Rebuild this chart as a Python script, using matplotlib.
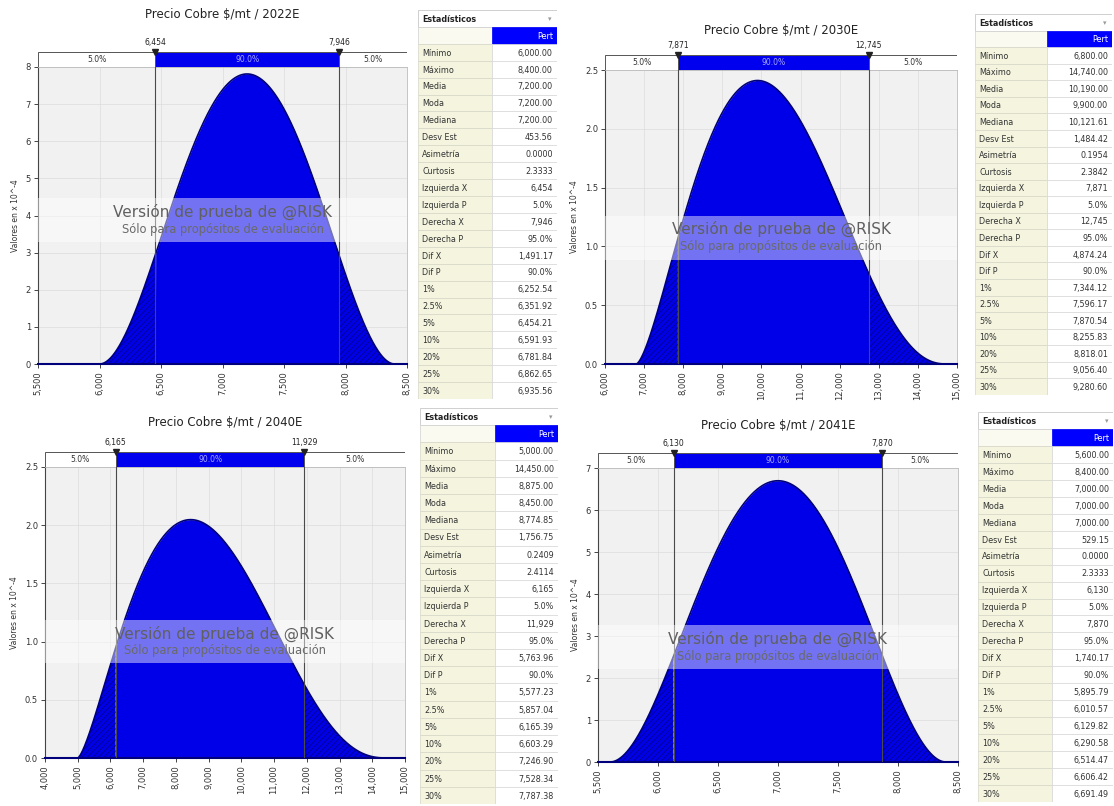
import math
import numpy as np
import matplotlib
matplotlib.use('Agg')
import matplotlib.pyplot as plt
from matplotlib.patches import Rectangle

plt.rcParams['font.family'] = ['DejaVu Sans']
plt.rcParams['hatch.linewidth'] = 0.6

# --- data read from the @RISK screenshots ---
titles = ["Precio Cobre \\$/mt / 2022E", "Precio Cobre \\$/mt / 2030E",
          "Precio Cobre \\$/mt / 2040E", "Precio Cobre \\$/mt / 2041E"]
pert_min = [6000, 6800, 5000, 5600]
pert_mode = [7200, 9900, 8450, 7000]
pert_max = [8400, 14740, 14450, 8400]
left_x = [6454, 7871, 6165, 6130]
right_x = [7946, 12745, 11929, 7870]
tail_labels = ["5.0%", "90.0%", "5.0%"]

x_ticks = [
    [5500, 6000, 6500, 7000, 7500, 8000, 8500],
    [6000, 7000, 8000, 9000, 10000, 11000, 12000, 13000, 14000, 15000],
    [4000, 5000, 6000, 7000, 8000, 9000, 10000, 11000, 12000, 13000, 14000, 15000],
    [5500, 6000, 6500, 7000, 7500, 8000, 8500],
]
y_ticks = [
    [0, 1, 2, 3, 4, 5, 6, 7, 8],
    [0.0, 0.5, 1.0, 1.5, 2.0, 2.5],
    [0.0, 0.5, 1.0, 1.5, 2.0, 2.5],
    [0, 1, 2, 3, 4, 5, 6, 7],
]
y_fmt = ["{:.0f}", "{:.1f}", "{:.1f}", "{:.0f}"]

stat_labels = ["Mínimo", "Máximo", "Media", "Moda", "Mediana", "Desv Est",
               "Asimetría", "Curtosis", "Izquierda X", "Izquierda P",
               "Derecha X", "Derecha P", "Dif X", "Dif P", "1%", "2.5%",
               "5%", "10%", "20%", "25%", "30%"]
stats_2022 = ["6,000.00", "8,400.00", "7,200.00", "7,200.00", "7,200.00", "453.56",
              "0.0000", "2.3333", "6,454", "5.0%", "7,946", "95.0%", "1,491.17",
              "90.0%", "6,252.54", "6,351.92", "6,454.21", "6,591.93", "6,781.84",
              "6,862.65", "6,935.56"]
stats_2030 = ["6,800.00", "14,740.00", "10,190.00", "9,900.00", "10,121.61", "1,484.42",
              "0.1954", "2.3842", "7,871", "5.0%", "12,745", "95.0%", "4,874.24",
              "90.0%", "7,344.12", "7,596.17", "7,870.54", "8,255.83", "8,818.01",
              "9,056.40", "9,280.60"]
stats_2040 = ["5,000.00", "14,450.00", "8,875.00", "8,450.00", "8,774.85", "1,756.75",
              "0.2409", "2.4114", "6,165", "5.0%", "11,929", "95.0%", "5,763.96",
              "90.0%", "5,577.23", "5,857.04", "6,165.39", "6,603.29", "7,246.90",
              "7,528.34", "7,787.38"]
stats_2041 = ["5,600.00", "8,400.00", "7,000.00", "7,000.00", "7,000.00", "529.15",
              "0.0000", "2.3333", "6,130", "5.0%", "7,870", "95.0%", "1,740.17",
              "90.0%", "5,895.79", "6,010.57", "6,129.82", "6,290.58", "6,514.47",
              "6,606.42", "6,691.49"]
all_stats = [stats_2022, stats_2030, stats_2040, stats_2041]

# --- layout in pixels (left, top, right, bottom) ---
W, H = 1114, 806
plot_px = [(38, 67, 407, 364), (605, 70, 957, 364), (45, 467, 405, 758), (598, 468, 958, 762)]
title_y = [14, 30, 423, 425]
band_y = [0.485, 0.43, 0.40, 0.39]
table_px = [(418, 10, 492, 557, 399), (975, 14, 1047, 1112, 395),
            (420, 408, 495, 558, 804), (978, 412, 1052, 1113, 802)]

BLUE = '#0000E8'
NAVY = '#00007A'


def rect(l, t, r, b):
    return [l / W, 1 - b / H, (r - l) / W, (b - t) / H]


def pert_pdf(x, a, m, b):
    al = 1 + 4 * (m - a) / (b - a)
    be = 1 + 4 * (b - m) / (b - a)
    beta_fn = math.gamma(al) * math.gamma(be) / math.gamma(al + be)
    return (x - a) ** (al - 1) * (b - x) ** (be - 1) / (beta_fn * (b - a) ** (al + be - 1))


def draw_chart(fig, i):
    l, t, r, b = plot_px[i]
    ax = fig.add_axes(rect(l, t, r, b))
    xt = x_ticks[i]
    yt = y_ticks[i]
    ax.set_facecolor('#F1F1F1')
    ax.set_xlim(xt[0], xt[-1])
    ax.set_ylim(yt[0], yt[-1])
    ax.grid(True, color='#DCDCDC', lw=0.5)
    ax.set_axisbelow(True)

    x = np.linspace(pert_min[i], pert_max[i], 800)
    y = pert_pdf(x, pert_min[i], pert_mode[i], pert_max[i]) * 1e4
    ax.fill_between(x, 0, y, where=(x >= left_x[i]) & (x <= right_x[i]),
                    color=BLUE, lw=0, zorder=2, interpolate=True)
    for mask in [x <= left_x[i], x >= right_x[i]]:
        ax.fill_between(x, 0, y, where=mask, facecolor=BLUE, edgecolor='#000090',
                        hatch='//////', lw=0, zorder=2, interpolate=True)
    ax.plot(x, y, color=NAVY, lw=1.2, zorder=3)
    for v in [left_x[i], right_x[i]]:
        ax.axvline(v, color='#4A4A4A', lw=0.8, zorder=4)

    ax.set_xticks(xt)
    ax.set_xticklabels([f"{v:,}" for v in xt], rotation=90, fontsize=6, color='#333333')
    ax.set_yticks(yt)
    ax.set_yticklabels([y_fmt[i].format(v) for v in yt], fontsize=6, color='#333333')
    ax.tick_params(length=3, width=0.7, color='#444444', pad=2)
    ax.set_ylabel("Valores en x 10^-4", fontsize=5.5, color='#333333', labelpad=4)
    for s in ['top', 'right']:
        ax.spines[s].set_color('#BBBBBB')
        ax.spines[s].set_linewidth(0.6)
    ax.spines['left'].set_color('#444444')
    ax.spines['bottom'].set_color(NAVY)
    ax.spines['bottom'].set_linewidth(1.5)

    # watermark band
    ax.add_patch(Rectangle((0, band_y[i] - 0.075), 1, 0.15, transform=ax.transAxes,
                           facecolor='white', alpha=0.45, lw=0, zorder=5))
    ax.text(0.5, band_y[i] + 0.028, "Versión de prueba de @RISK", transform=ax.transAxes,
            ha='center', va='center', fontsize=11, color='#606060', zorder=6)
    ax.text(0.5, band_y[i] - 0.032, "Sólo para propósitos de evaluación",
            transform=ax.transAxes, ha='center', va='center', fontsize=8.3,
            color='#6A6A6A', zorder=6)

    # delimiter bar
    bx = fig.add_axes(rect(l, t - 15, r, t))
    bx.set_xlim(xt[0], xt[-1])
    bx.set_ylim(0, 1)
    bx.axis('off')
    cells = [(xt[0], left_x[i], 'white'), (left_x[i], right_x[i], '#0000EE'),
             (right_x[i], xt[-1], 'white')]
    for (x0, x1, c), lab in zip(cells, tail_labels):
        bx.add_patch(Rectangle((x0, 0), x1 - x0, 1, facecolor=c, edgecolor='#555555', lw=0.7))
        bx.text((x0 + x1) / 2, 0.5, lab, ha='center', va='center', fontsize=5.5,
                color='#A8A8FF' if c != 'white' else '#333333')
    for v in [left_x[i], right_x[i]]:
        bx.plot([v], [1], marker='v', ms=4.5, color='#222222', clip_on=False)
        bx.text(v, 1.35, f"{v:,}", ha='center', va='bottom', fontsize=5.5, color='#222222')

    fig.text((l + r) / 2 / W, 1 - title_y[i] / H, titles[i], ha='center', va='center',
             fontsize=8.5, color='#222222')


def draw_table(fig, i):
    l, t, d, r, b = table_px[i]
    tx = fig.add_axes(rect(l, t, r, b))
    n = len(stat_labels) + 2
    tx.set_xlim(0, 1)
    tx.set_ylim(n, 0)
    tx.axis('off')
    split = (d - l) / (r - l)
    tx.add_patch(Rectangle((0, 0), 1, 1, facecolor='white', edgecolor='#C8C8C8', lw=0.6))
    tx.text(0.03, 0.55, "Estadísticos", ha='left', va='center', fontsize=5.8,
            fontweight='bold', color='#222222')
    tx.text(0.95, 0.55, "▾", ha='center', va='center', fontsize=5, color='#999999')
    tx.add_patch(Rectangle((0, 1), split, 1, facecolor='#FAFAF0', edgecolor='#D0D0D0', lw=0.5))
    tx.add_patch(Rectangle((split, 1), 1 - split, 1, facecolor='#0000FF', edgecolor='#0000FF', lw=0.5))
    tx.text(0.97, 1.55, "Pert", ha='right', va='center', fontsize=5.8, color='white')
    for k, (lab, val) in enumerate(zip(stat_labels, all_stats[i])):
        row = k + 2
        tx.add_patch(Rectangle((0, row), split, 1, facecolor='#F4F4DF', edgecolor='#D6D6C8', lw=0.5))
        tx.add_patch(Rectangle((split, row), 1 - split, 1, facecolor='white', edgecolor='#D8D8D8', lw=0.5))
        tx.text(0.03, row + 0.55, lab, ha='left', va='center', fontsize=5.8, color='#333333')
        tx.text(0.97, row + 0.55, val, ha='right', va='center', fontsize=5.8, color='#333333')


fig = plt.figure(figsize=(W / 100, H / 100), dpi=100)
for i in range(4):
    draw_chart(fig, i)
    draw_table(fig, i)
fig.savefig('out.png', dpi=100)
